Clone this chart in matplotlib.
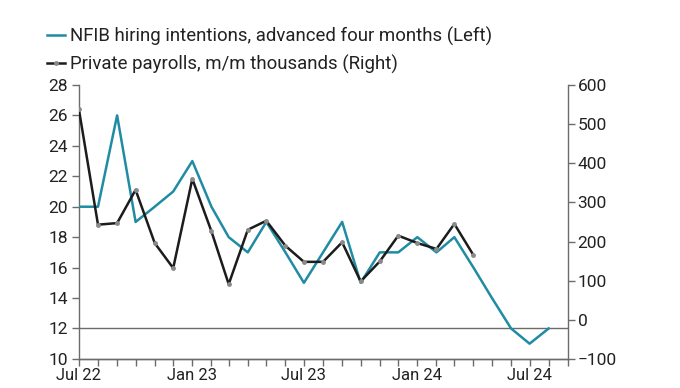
import matplotlib
matplotlib.use('agg')
import matplotlib.pyplot as plt
import matplotlib.dates as mdates
import pandas as pd

# monthly, Jul 22 .. Aug 24
nfib = [20, 20, 26, 19, 20, 21, 23, 20, 18, 17, 19, 17, 15,
        17, 19, 15, 17, 17, 18, 17, 18, 16, 14, 12, 11, 12]
# monthly, Jul 22 .. Apr 24
payrolls = [538, 243, 247, 332, 196, 132, 360, 226, 91, 230, 253, 189, 148,
            148, 198, 98, 149, 215, 196, 181, 245, 165]

nfib_dates = pd.date_range('2022-07-01', periods=len(nfib), freq='MS')
pay_dates = pd.date_range('2022-07-01', periods=len(payrolls), freq='MS')

teal = '#1f8ca3'
dark = '#1c1c1c'
grey = '#6b6b6b'
txt = '#222222'

plt.rcParams['font.family'] = ['Roboto', 'DejaVu Sans']

fig = plt.figure(figsize=(6.8, 3.88), dpi=100)
ax = fig.add_axes([0.116, 0.075, 0.719, 0.706])
ax2 = ax.twinx()

ax.plot(nfib_dates, nfib, color=teal, lw=1.8, zorder=3)
ax.axhline(12, color=grey, lw=1, zorder=1)
ax2.plot(pay_dates, payrolls, color=dark, lw=1.8, marker='o', ms=2.5,
         mfc='#8a8a8a', mec='#8a8a8a', zorder=3)

ax.set_xlim(pd.Timestamp('2022-07-01'), pd.Timestamp('2024-09-01'))
ax.set_ylim(10, 28)
ax.set_yticks(range(10, 29, 2))
ax2.set_ylim(-100, 600)
ax2.set_yticks(range(-100, 601, 100))

ax.xaxis.set_major_locator(mdates.MonthLocator(bymonth=[1, 7]))
ax.xaxis.set_major_formatter(mdates.DateFormatter('%b %y'))
ax.xaxis.set_minor_locator(mdates.MonthLocator())

for a in (ax, ax2):
    a.spines['top'].set_visible(False)
    for s in ('left', 'right', 'bottom'):
        a.spines[s].set_color(grey)
        a.spines[s].set_linewidth(1)
    a.tick_params(which='both', color=grey, width=1, length=5,
                  labelsize=12.5, labelcolor=txt, pad=2)
ax.spines['right'].set_visible(False)
ax2.spines['left'].set_visible(False)
ax.tick_params(axis='y', pad=3)
ax.tick_params(axis='x', labelsize=12, pad=1.5)

h1, = ax.plot([], [], color=teal, lw=1.8)
h2, = ax.plot([], [], color=dark, lw=1.8, marker='o', ms=2.5,
              mfc='#8a8a8a', mec='#8a8a8a')
fig.legend([h1, h2],
           ['NFIB hiring intentions, advanced four months (Left)',
            'Private payrolls, m/m thousands (Right)'],
           loc='upper left', bbox_to_anchor=(0.058, 0.95), frameon=False,
           fontsize=13.4, handlelength=1.0, handletextpad=0.25,
           labelspacing=0.45, labelcolor=txt, borderaxespad=0)

fig.savefig('out.png', dpi=100)
